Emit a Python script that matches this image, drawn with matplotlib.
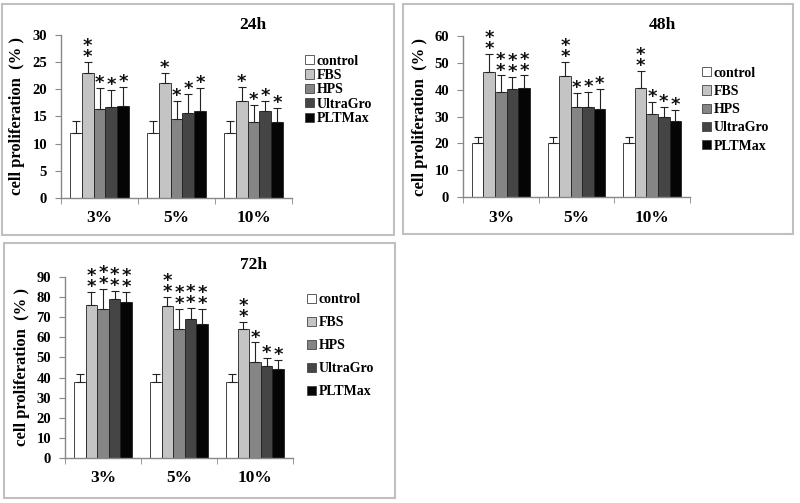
import numpy as np
import matplotlib
matplotlib.use("Agg")
import matplotlib.pyplot as plt
from matplotlib.patches import Rectangle, Patch

plt.rcParams['font.family'] = ['Liberation Serif', 'DejaVu Serif']
plt.rcParams['font.weight'] = 'bold'

groups = ['control', 'FBS', 'HPS', 'UltraGro', 'PLTMax']
colors = ['#ffffff', '#c4c4c4', '#858585', '#454545', '#050505']
doses = ['3%', '5%', '10%']

# rows = dose, columns = group
mean_24 = [[12, 23.0, 16.3, 16.8, 17.0],
           [12, 21.1, 14.6, 15.6, 16.0],
           [12, 17.8, 13.9, 16.0, 13.9]]
err_24 = [[2.2, 2.1, 4.0, 3.1, 3.4],
          [2.2, 1.9, 3.2, 3.5, 4.3],
          [2.2, 2.6, 3.3, 1.9, 2.7]]
star_24 = [[0, 2, 1, 1, 1],
           [0, 1, 1, 1, 1],
           [0, 1, 1, 1, 1]]

mean_48 = [[20, 46.7, 39.2, 40.2, 40.5],
           [20, 45.0, 33.5, 33.5, 32.7],
           [20, 40.8, 30.8, 30.0, 28.2]]
err_48 = [[2.2, 6.5, 6.1, 4.4, 4.8],
          [2.2, 5.2, 5.4, 5.7, 7.6],
          [2.2, 6.2, 4.6, 3.5, 4.4]]
star_48 = [[0, 2, 2, 2, 2],
           [0, 2, 1, 1, 1],
           [0, 2, 1, 1, 1]]

mean_72 = [[38, 76.0, 74.0, 79.3, 77.5],
           [38, 75.5, 64.3, 69.3, 66.8],
           [38, 64.3, 47.5, 45.7, 44.3]]
err_72 = [[4.0, 6.5, 10.0, 3.9, 5.0],
          [4.0, 4.8, 10.0, 5.3, 7.5],
          [4.0, 3.5, 10.0, 3.9, 4.5]]
star_72 = [[0, 2, 2, 2, 2],
           [0, 2, 2, 2, 2],
           [0, 2, 1, 1, 1]]

fig = plt.figure(figsize=(8, 5.03), dpi=100)

def px(x0, y0, x1, y1):
    # pixel box -> figure fraction [left, bottom, width, height]
    return [x0 / 800, 1 - y1 / 503, (x1 - x0) / 800, (y1 - y0) / 503]

for box in [(2, 4, 394, 235), (403, 4, 793, 234), (4, 243, 395, 498)]:
    l, b, w, h = px(*box)
    fig.patches.append(Rectangle((l, b), w, h, transform=fig.transFigure,
                                 fill=False, edgecolor='#c0c0c0', linewidth=1.5))


def panel(rect, mean, err, stars, ymax, step, title, title_xy, leg_xy, leg_space):
    ax = fig.add_axes(px(*rect))
    w = 0.153
    for d in range(3):
        for g in range(5):
            x = d + 0.5 + (g - 2) * w
            ax.bar(x, mean[d][g], width=w, color=colors[g], edgecolor='#222222',
                   linewidth=0.6, zorder=2)
            ax.errorbar(x, mean[d][g], yerr=[[0], [err[d][g]]], fmt='none',
                        ecolor='#222222', elinewidth=0.8, capsize=3, capthick=0.8, zorder=3)
            top = mean[d][g] + err[d][g]
            for k in range(stars[d][g]):
                ax.annotate('*', xy=(x, top), xytext=(0, -3 + 8 * k),
                            textcoords='offset points', ha='center', va='bottom',
                            fontsize=13, family='DejaVu Sans', fontweight='bold',
                            color='#111111', annotation_clip=False)
    ax.set_xlim(0, 3)
    ax.set_ylim(0, ymax)
    ax.set_yticks(np.arange(0, ymax + 1, step))
    ax.set_xticks([0.5, 1.5, 2.5])
    ax.set_xticklabels(doses, fontsize=12.5, fontweight='bold')
    ax.tick_params(axis='x', length=0, pad=9)
    ax.set_xticks([0, 1, 2, 3], minor=True)
    ax.tick_params(axis='x', which='minor', length=4, color='#888888', direction='out')
    ax.tick_params(axis='y', length=4, color='#888888', labelsize=10.5, pad=6)
    for lab in ax.get_yticklabels():
        lab.set_fontweight('bold')
    for s in ['top', 'right']:
        ax.spines[s].set_visible(False)
    for s in ['left', 'bottom']:
        ax.spines[s].set_color('#888888')
        ax.spines[s].set_linewidth(1.0)
    ax.set_ylabel('cell proliferation  (% )', fontsize=12, fontweight='bold', labelpad=5)
    ax.text(title_xy[0], title_xy[1], title, transform=ax.transAxes, ha='center',
            va='center', fontsize=12.5, fontweight='bold')
    handles = [Patch(facecolor=c, edgecolor='#444444', linewidth=0.6) for c in colors]
    ax.legend(handles, groups, loc='upper left', bbox_to_anchor=leg_xy, frameon=False,
              prop={'family': 'Liberation Serif', 'weight': 'bold', 'size': 10},
              handlelength=0.65, handleheight=0.65, handletextpad=0.2,
              labelspacing=leg_space, borderpad=0, borderaxespad=0)
    return ax


panel((61, 35, 292, 198), mean_24, err_24, star_24, 30, 5, '24h',
      (0.83, 1.06), (1.056, 0.88), 0.1)
panel((463, 36, 690, 197), mean_48, err_48, star_48, 60, 10, '48h',
      (0.877, 1.07), (1.053, 0.81), 0.38)
panel((65, 277, 293, 458), mean_72, err_72, star_72, 90, 10, '72h',
      (0.825, 1.066), (1.061, 0.91), 0.72)

fig.savefig('out.png', dpi=100)
